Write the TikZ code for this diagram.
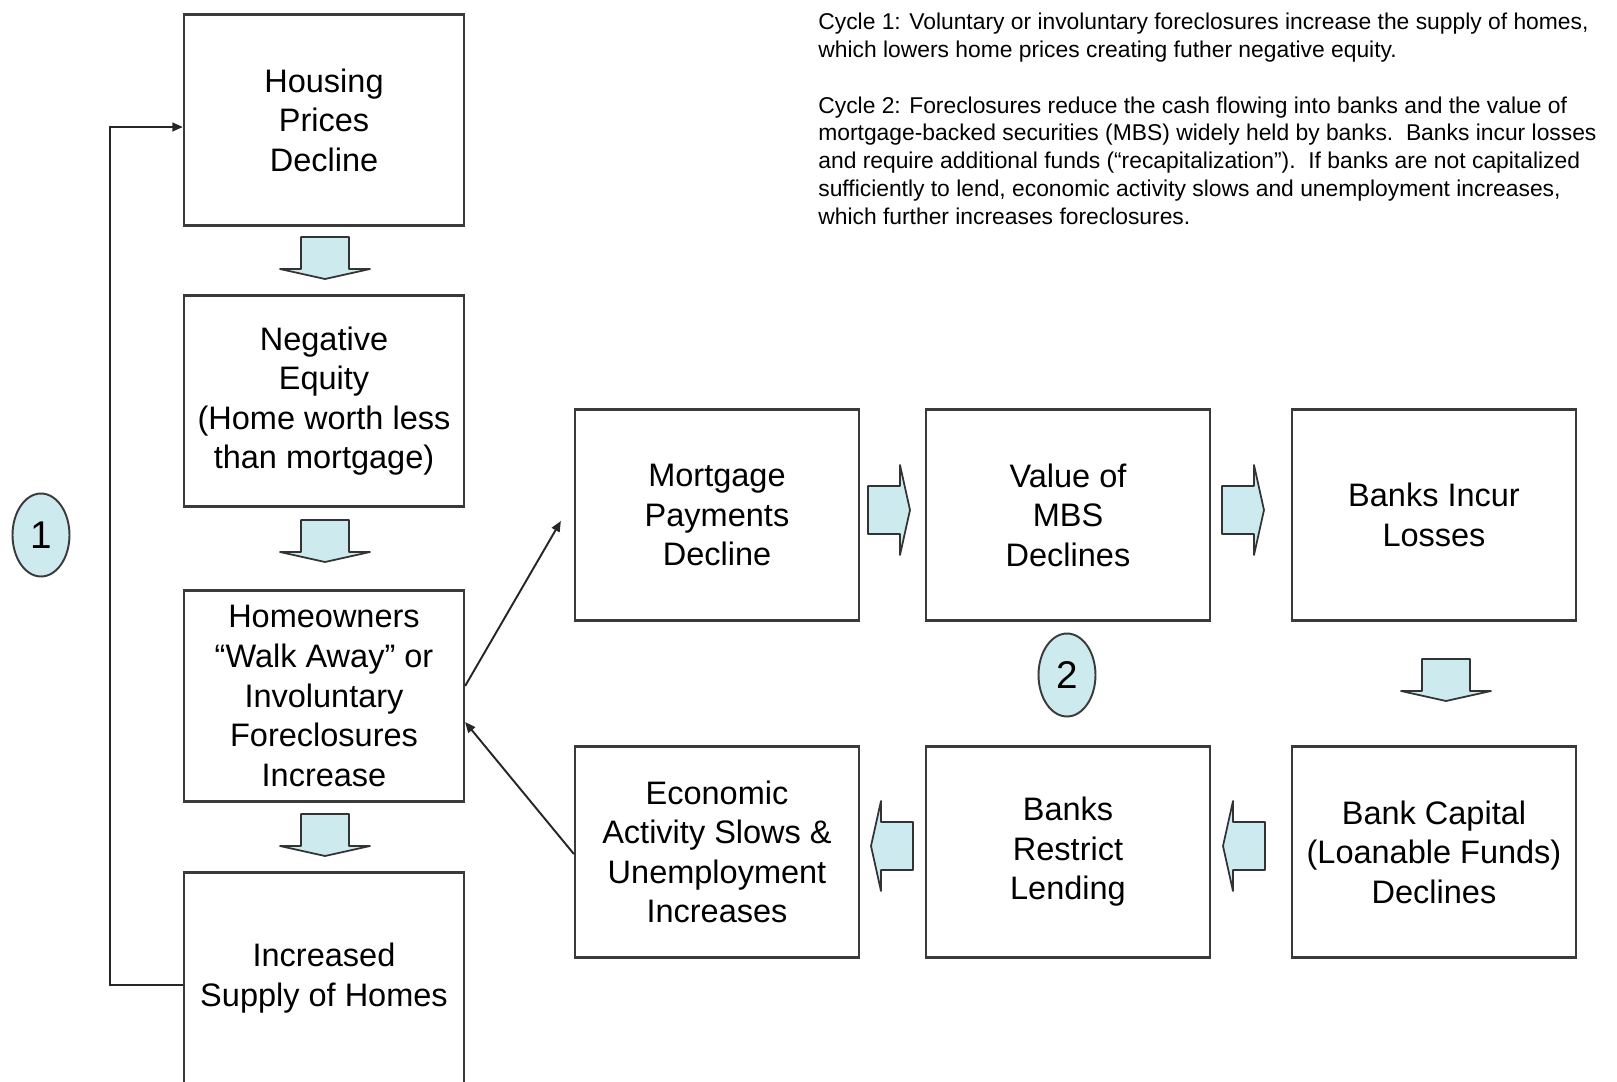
\documentclass[tikz,border=0pt]{standalone}
\usepackage{fontspec}
\setmainfont{Liberation Sans}
\usepackage{tikz}
\usetikzlibrary{arrows.meta,positioning,shapes.geometric}
\definecolor{stageline}{HTML}{3A3A3A}
\definecolor{cyclefill}{HTML}{CDEBEF}

\begin{document}
\begin{tikzpicture}[
  x=0.02cm, y=-0.02cm,
  stage/.style={draw=stageline, line width=1.3pt, minimum width=5.6cm, minimum height=4.22cm, inner sep=2pt, align=center, font=\fontsize{18.5}{22.5}\selectfont},
  wide/.style={stage, minimum width=5.68cm},
  cyclemark/.style={draw=stageline, line width=1.1pt, ellipse, fill=cyclefill, minimum width=1.14cm, minimum height=1.66cm, inner sep=0pt, font=\fontsize{22}{24}\selectfont},
  arr/.style={-{Triangle[length=6pt,width=5pt]}, line width=1.1pt, black!85},
  note/.style={anchor=north west, align=left, inner sep=0pt, font=\fontsize{13}{15.8}\selectfont},
  pics/flowarrow/.style={code={
    \draw[fill=cyclefill, draw=black!80, line width=1pt, line join=round]
      (-22,-24) -- (10,-24) -- (10,-45) -- (20,0) -- (10,45) -- (10,24) -- (-22,24) -- cycle;
  }}
]
  \useasboundingbox (0,0) rectangle (1617,1082);

  % cycle 1, left column
  \node[stage] (hpd) at (324,120) {Housing\\Prices\\Decline};
  \node[stage] (neq) at (324,401) {Negative\\Equity\\(Home worth less\\than mortgage)};
  \node[stage] (walk) at (324,696) {Homeowners\\“Walk Away” or\\Involuntary\\Foreclosures\\Increase};
  \node[stage] (supply) at (324,978) {Increased\\Supply of Homes};

  % cycle 2, top row
  \node[wide] (mpd) at (717,515) {Mortgage\\Payments\\Decline};
  \node[wide] (mbs) at (1068,515) {Value of\\MBS\\Declines};
  \node[wide] (loss) at (1434,515) {Banks Incur\\Losses};

  % cycle 2, bottom row
  \node[wide] (econ) at (717,852) {Economic\\Activity Slows \&\\Unemployment\\Increases};
  \node[wide] (lend) at (1068,852) {Banks\\Restrict\\Lending};
  \node[wide] (capital) at (1434,852) {Bank Capital\\(Loanable Funds)\\Declines};

  \node[cyclemark] (one) at (41,535) {1};
  \node[cyclemark] (two) at (1067,675) {2};

  % block arrows
  \pic[rotate=-90] at (325,259) {flowarrow};
  \pic[rotate=-90] at (325,542) {flowarrow};
  \pic[rotate=-90] at (325,836) {flowarrow};
  \pic at (890,510) {flowarrow};
  \pic at (1244,510) {flowarrow};
  \pic[rotate=-90] at (1446,681) {flowarrow};
  \pic[rotate=180] at (891,846) {flowarrow};
  \pic[rotate=180] at (1243,846) {flowarrow};

  % connectors
  \draw[arr] ([yshift=-0.14cm]supply.west) -- ++(-73,0) |- ([yshift=-0.14cm]hpd.west);
  \draw[arr] ([yshift=0.2cm]walk.east) -- ([xshift=-0.26cm,yshift=-0.12cm]mpd.west);
  \draw[arr] ([yshift=-0.04cm]econ.west) -- ([yshift=-0.52cm]walk.east);

  \node[note] (legend) at (818,13) {Cycle 1: Voluntary or involuntary foreclosures increase the supply of homes,\\
    which lowers home prices creating futher negative equity.\\[15.8pt]
    Cycle 2: Foreclosures reduce the cash flowing into banks and the value of\\
    mortgage-backed securities (MBS) widely held by banks.\ \ Banks incur losses\\
    and require additional funds (“recapitalization”).\ \ If banks are not capitalized\\
    sufficiently to lend, economic activity slows and unemployment increases,\\
    which further increases foreclosures.};
\end{tikzpicture}
\end{document}
